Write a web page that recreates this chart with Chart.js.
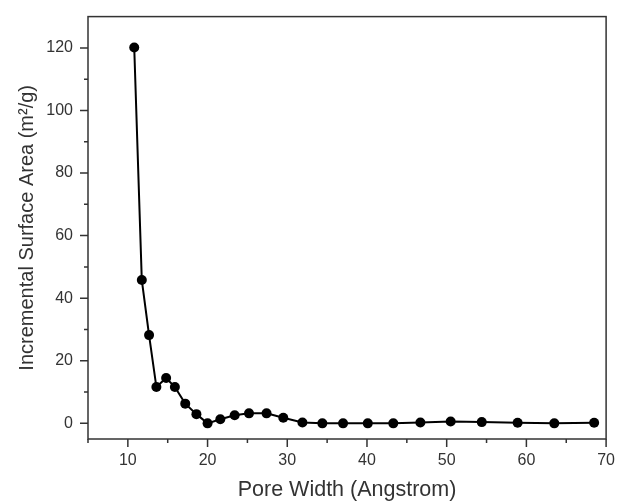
<!DOCTYPE html>
<html>
<head>
<meta charset="utf-8">
<script src="https://cdn.jsdelivr.net/npm/chart.js@4"></script>
<style>
  html, body { margin: 0; padding: 0; background: #fff; }
  #wrap { width: 619px; height: 504px; position: relative; }
</style>
</head>
<body>
<div id="wrap"><canvas id="c" width="619" height="504"></canvas></div>
<script>
// ---- data ----
const poreWidth = [10.8, 11.75, 12.66, 13.58, 14.8, 15.9, 17.2, 18.6, 20.0, 21.6, 23.4, 25.2, 27.4, 29.5, 31.9, 34.4, 37.0, 40.1, 43.3, 46.7, 50.5, 54.4, 58.9, 63.5, 68.5];
const surfaceArea = [120.1, 45.8, 28.2, 11.6, 14.5, 11.6, 6.3, 2.95, 0.0, 1.3, 2.6, 3.2, 3.2, 1.8, 0.3, 0.0, 0.0, 0.0, 0.0, 0.3, 0.6, 0.4, 0.2, 0.0, 0.2];
const xMajorTicks = [10, 20, 30, 40, 50, 60, 70];
const xMinorTicks = [5, 15, 25, 35, 45, 55, 65];
const yMajorTicks = [0, 20, 40, 60, 80, 100, 120];
const yMinorTicks = [10, 30, 50, 70, 90, 110];
const xTitle = 'Pore Width (Angstrom)';
const yTitle = 'Incremental Surface Area (m\u00B2/g)';

const points = poreWidth.map((x, i) => ({ x: x, y: surfaceArea[i] }));
const TEXT = '#333333';
const FONT = "'Liberation Sans', Arial, sans-serif";

const tickPlugin = {
  id: 'ticksAndFrame',
  afterDraw(chart) {
    const { ctx, chartArea: a, scales: { x, y } } = chart;
    ctx.save();
    ctx.strokeStyle = '#333';
    ctx.lineWidth = 1.5;
    ctx.beginPath();
    const bottom = a.bottom, left = a.left;
    xMajorTicks.concat(xMinorTicks).forEach(v => {
      const px = x.getPixelForValue(v);
      const len = xMajorTicks.includes(v) ? 8 : 4;
      ctx.moveTo(px, bottom); ctx.lineTo(px, bottom + len);
    });
    yMajorTicks.concat(yMinorTicks).forEach(v => {
      const py = y.getPixelForValue(v);
      const len = yMajorTicks.includes(v) ? 8 : 4;
      ctx.moveTo(left, py); ctx.lineTo(left - len, py);
    });
    ctx.stroke();
    ctx.strokeRect(a.left, a.top, a.right - a.left, a.bottom - a.top);
    ctx.restore();
  }
};

new Chart(document.getElementById('c'), {
  type: 'scatter',
  data: {
    datasets: [{
      data: points,
      showLine: true,
      borderColor: '#000',
      backgroundColor: '#000',
      borderWidth: 2,
      pointRadius: 5,
      pointHoverRadius: 5,
      pointBorderWidth: 0,
      tension: 0,
      clip: false
    }]
  },
  options: {
    responsive: false,
    animation: false,
    events: [],
    layout: { padding: { left: 0, top: 13, right: 11, bottom: 0 } },
    plugins: { legend: { display: false }, tooltip: { enabled: false } },
    scales: {
      x: {
        type: 'linear',
        min: 5, max: 70,
        afterBuildTicks: s => { s.ticks = xMajorTicks.map(v => ({ value: v })); },
        afterFit: s => { s.height = 65; },
        grid: { drawOnChartArea: false, color: 'rgba(0,0,0,0)', tickColor: 'rgba(0,0,0,0)', tickLength: 8 },
        border: { display: false },
        ticks: { color: TEXT, font: { family: FONT, size: 16 }, padding: 4, maxRotation: 0, autoSkip: false },
        title: { display: true, text: xTitle, color: TEXT, font: { family: FONT, size: 21.5 }, padding: { top: 0, bottom: 1 } }
      },
      y: {
        type: 'linear',
        min: -5, max: 130,
        afterBuildTicks: s => { s.ticks = yMajorTicks.map(v => ({ value: v })); },
        afterFit: s => { s.width = 88; },
        grid: { drawOnChartArea: false, color: 'rgba(0,0,0,0)', tickColor: 'rgba(0,0,0,0)', tickLength: 8 },
        border: { display: false },
        ticks: { color: TEXT, font: { family: FONT, size: 16 }, padding: 7, autoSkip: false },
        title: { display: true, text: yTitle, color: TEXT, font: { family: FONT, size: 20 }, padding: { top: 15, bottom: 0 } }
      }
    }
  },
  plugins: [tickPlugin]
});
</script>
</body>
</html>
